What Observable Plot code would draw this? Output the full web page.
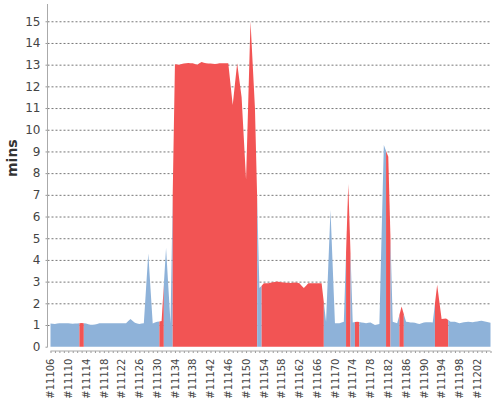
<!DOCTYPE html>
<html><head><meta charset="utf-8">
<script src="https://cdn.jsdelivr.net/npm/d3@7"></script>
<script src="https://cdn.jsdelivr.net/npm/@observablehq/plot@0.6"></script>
<style>
body{margin:0;background:#fff;}
svg{font-family:"DejaVu Sans",sans-serif;}
</style>
</head><body><div id="chart"></div>
<script>
// Build numbers (categories)
const builds = d3.range(11106, 11206);
// Build durations in minutes
const durations = [
  1.07,1.05,1.08,1.08,1.08,1.06,1.07,1.09,1.07,1.01,
  1.02,1.08,1.08,1.08,1.08,1.08,1.08,1.08,1.28,1.10,
  1.05,1.08,4.30,1.07,1.15,1.18,4.55,1.08,13.02,13.00,
  13.05,13.08,13.06,13.00,13.12,13.06,13.05,13.03,13.06,13.06,
  13.06,11.14,13.07,11.50,7.69,15.00,11.00,2.70,2.92,2.93,
  2.97,3.00,2.97,2.95,2.94,2.96,2.93,2.70,2.92,2.93,
  2.93,2.93,1.15,6.30,1.08,1.08,1.15,7.50,1.12,1.15,
  1.12,1.08,1.12,1.00,1.05,9.30,8.75,1.15,1.08,1.85,
  1.15,1.12,1.10,1.05,1.12,1.13,1.12,2.85,1.28,1.30,
  1.15,1.15,1.08,1.13,1.15,1.13,1.16,1.20,1.15,1.10
];
// Build result: S = success, F = failure
const statuses = [
  "S","S","S","S","S","S","S","F","S","S",
  "S","S","S","S","S","S","S","S","S","S",
  "S","S","S","S","S","F","S","S","F","F",
  "F","F","F","F","F","F","F","F","F","F",
  "F","F","F","F","F","F","F","S","F","F",
  "F","F","F","F","F","F","F","F","F","F",
  "F","F","S","S","S","S","S","F","S","F",
  "S","S","S","S","S","S","F","S","S","F",
  "S","S","S","S","S","S","S","F","F","F",
  "S","S","S","S","S","S","S","S","S","S"
];
const yTicks = d3.range(0, 16);

const BLUE = "#8eb2d9", RED = "#f25454";
const n = builds.length;
// Each build owns the band from the midpoint with its predecessor to the midpoint with its successor;
// consecutive builds with the same result are joined into one run.
const pts = [];
let run = 0;
for (let i = 0; i < n; i++) {
  if (i > 0 && statuses[i] !== statuses[i-1]) run++;
  const v = durations[i];
  const left = i === 0 ? {x: 0, y: v} : {x: i - 0.5, y: (durations[i-1] + v) / 2};
  const right = i === n - 1 ? {x: i, y: v} : {x: i + 0.5, y: (durations[i+1] + v) / 2};
  for (const p of [left, {x: i, y: v}, right]) pts.push({...p, run, status: statuses[i]});
}

const W = 500, H = 400, ML = 47.5, MB = 49;
const chart = Plot.plot({
  width: W, height: H,
  marginLeft: ML, marginRight: 9, marginTop: 4, marginBottom: MB,
  x: {domain: [0, n - 1], range: [50.5, 490.5], axis: null},
  y: {domain: [0, 15.75], range: [346.7, 5], axis: null},
  color: {domain: ["S", "F"], range: [BLUE, RED]},
  marks: [
    Plot.gridY(yTicks.filter(d => d > 0), {stroke: "#777", strokeOpacity: 1, strokeDasharray: "2,2", strokeWidth: 1}),
    Plot.areaY(pts, {x: "x", y1: 0, y2: "y", z: "run", fill: "status", curve: "linear"}),
    Plot.axisY(yTicks, {anchor: "left", tickSize: 2, tickPadding: 5.5, fontSize: 12, color: "#444", stroke: "#999", label: null}),
    Plot.axisX(d3.range(0, n), {anchor: "bottom", tickSize: 2, tickPadding: 5, fontSize: 10, color: "#444", stroke: "#999",
      tickRotate: -90, label: null, tickFormat: i => i % 4 === 0 ? "#" + builds[i] : ""}),
    Plot.text(["mins"], {frameAnchor: "left", rotate: -90, dx: -35.5, dy: -1, fontSize: 14, fontWeight: "bold", fill: "#333"})
  ]
});
// axis lines, placed from the scales' ranges
const svg = d3.select(chart);
const xr = chart.scale("x").range, yr = chart.scale("y").range;
svg.append("line").attr("x1", ML).attr("x2", ML).attr("y1", yr[1] - 1).attr("y2", yr[0] + 0.5)
  .attr("stroke", "#aaa");
svg.append("line").attr("x1", xr[0]).attr("x2", xr[1]).attr("y1", H - MB).attr("y2", H - MB)
  .attr("stroke", "#aaa");
document.getElementById("chart").appendChild(chart);
</script>
</body></html>
